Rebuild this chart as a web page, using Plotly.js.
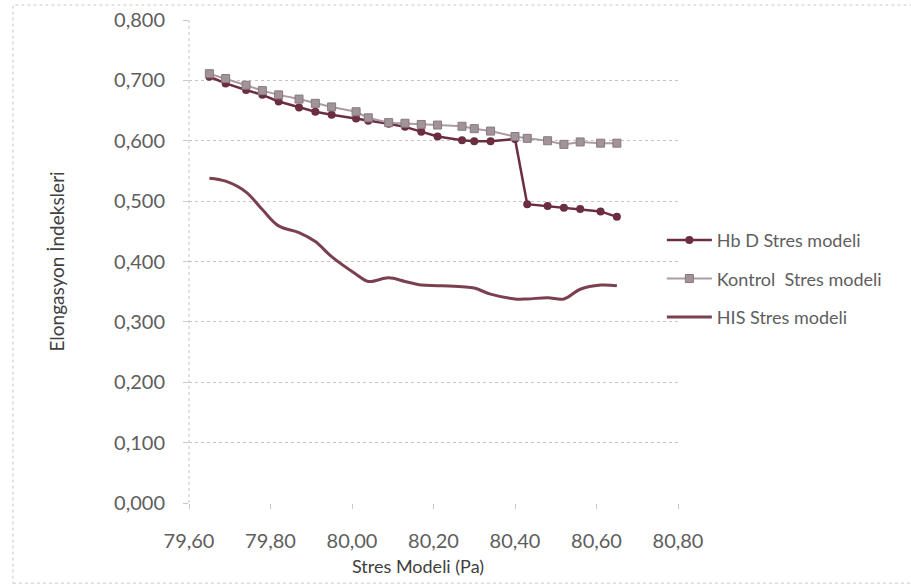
<!DOCTYPE html>
<html>
<head>
<meta charset="utf-8">
<script src="https://cdn.plot.ly/plotly-3.0.1.min.js"></script>
<style>
  html, body { margin: 0; padding: 0; background: #ffffff; }
  #chart { width: 911px; height: 586px; }
</style>
</head>
<body>
<div id="chart"></div>
<script>
// Stress level (Pa) shared by all three series
const stres = [79.65, 79.69, 79.74, 79.78, 79.82, 79.87, 79.91, 79.95, 80.01, 80.04, 80.09, 80.13,
               80.17, 80.21, 80.27, 80.30, 80.34, 80.40, 80.43, 80.48, 80.52, 80.56, 80.61, 80.65];

// Elongation indices per model
const hbD = [0.706, 0.695, 0.684, 0.676, 0.665, 0.655, 0.648, 0.643, 0.637, 0.633, 0.628, 0.623,
             0.615, 0.607, 0.601, 0.599, 0.599, 0.603, 0.495, 0.492, 0.489, 0.487, 0.483, 0.474];
const kontrol = [0.711, 0.703, 0.692, 0.683, 0.676, 0.669, 0.662, 0.656, 0.648, 0.638, 0.630, 0.629,
                 0.627, 0.626, 0.624, 0.620, 0.616, 0.607, 0.604, 0.600, 0.594, 0.598, 0.596, 0.596];
const his = [0.538, 0.533, 0.515, 0.486, 0.459, 0.448, 0.433, 0.408, 0.379, 0.367, 0.373, 0.367,
             0.361, 0.360, 0.358, 0.356, 0.346, 0.338, 0.338, 0.340, 0.338, 0.354, 0.361, 0.360];

const seriesNames = ['Hb D Stres modeli', 'Kontrol  Stres modeli', 'HIS Stres modeli'];
const xTitle = 'Stres Modeli (Pa)';
const yTitle = 'Elongasyon İndeksleri';

const FONT = 'Lato, "Open Sans", sans-serif';

const traces = [
  {
    x: stres, y: hbD, name: seriesNames[0], legendgroup: 'a',
    type: 'scatter', mode: 'lines+markers',
    line: { color: '#6b2d40', width: 2.5 },
    marker: { symbol: 'circle', size: 8, color: '#6b2d40' }
  },
  {
    x: stres, y: kontrol, name: seriesNames[1], legendgroup: 'b',
    type: 'scatter', mode: 'lines+markers',
    line: { color: '#ad9aa3', width: 2 },
    marker: { symbol: 'square', size: 8, color: '#a0949a', line: { color: '#877880', width: 1 } }
  },
  {
    x: stres, y: his, name: seriesNames[2], legendgroup: 'c',
    type: 'scatter', mode: 'lines',
    line: { color: '#7a4050', width: 3, shape: 'spline', smoothing: 1 }
  }
];

const layout = {
  width: 911, height: 586,
  margin: { l: 189, r: 233, t: 20, b: 83 },
  paper_bgcolor: '#ffffff', plot_bgcolor: '#ffffff',
  separators: ',.',
  font: { family: FONT, size: 20, color: '#5e5e5e' },
  showlegend: true,
  legend: {
    x: 0.967, xanchor: 'left', y: 0.464, yanchor: 'middle',
    traceorder: 'grouped', tracegroupgap: 12, itemwidth: 45,
    font: { family: FONT, size: 18, color: '#5e5e5e' },
    bgcolor: 'rgba(0,0,0,0)'
  },
  xaxis: {
    range: [79.6, 80.8], dtick: 0.2, tick0: 79.6, tickformat: '.2f',
    showgrid: false, zeroline: false, showline: false,
    ticks: 'outside', ticklen: 5, tickcolor: '#c8c8c8',
    ticklabelstandoff: 15,
    tickfont: { family: FONT, size: 20, color: '#5e5e5e' }
  },
  yaxis: {
    range: [0, 0.8], dtick: 0.1, tick0: 0, tickformat: '.3f',
    showgrid: true, gridcolor: '#c4c4c4', griddash: 'dot', gridwidth: 1,
    zeroline: false, showline: false,
    ticks: 'outside', ticklen: 5, tickcolor: '#c8c8c8',
    ticklabelstandoff: 14,
    tickfont: { family: FONT, size: 20, color: '#5e5e5e' },
    title: { text: yTitle, font: { family: FONT, size: 19, color: '#404040' }, standoff: 44 }
  },
  annotations: [
    { text: xTitle, xref: 'paper', yref: 'paper', x: 0.468, y: 0, xanchor: 'center', yanchor: 'middle',
      yshift: -63, showarrow: false, font: { family: FONT, size: 18, color: '#404040' } }
  ],
  shapes: [
    // vertical axis line
    { type: 'line', xref: 'paper', yref: 'paper', x0: 0, x1: 0, y0: 0, y1: 1,
      line: { color: '#c4c4c4', width: 1, dash: 'dot' }, layer: 'below' },
    // chart frame
    { type: 'rect', xref: 'paper', yref: 'paper', x0: -0.36, x1: 1.49, y0: -0.166, y1: 1.031,
      line: { color: '#c8c8c8', width: 1, dash: 'dot' }, layer: 'below' }
  ]
};

Plotly.newPlot('chart', traces, layout, { displayModeBar: false, staticPlot: true });
</script>
</body>
</html>
